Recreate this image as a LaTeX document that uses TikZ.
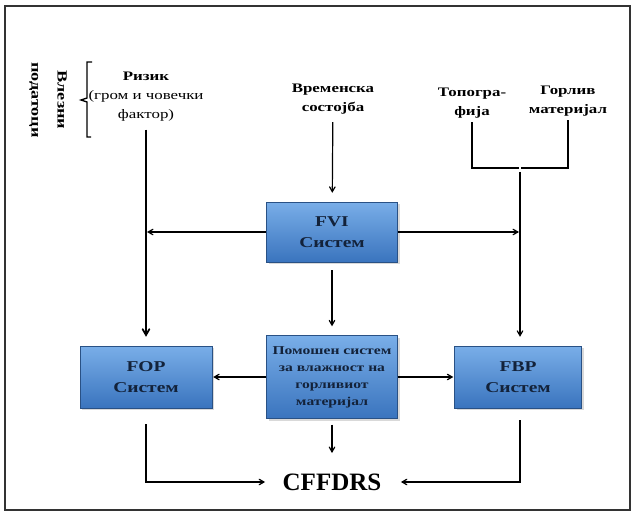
\documentclass[tikz,border=0pt]{standalone}
\usepackage{fontspec}
\setmainfont{Liberation Serif}
\newfontfamily\widefont[FakeStretch=1.3]{Liberation Serif}
\usetikzlibrary{shapes,arrows,shadows}
\definecolor{boxtop}{HTML}{79AEE8}
\definecolor{boxmid}{HTML}{4C8BD6}
\definecolor{boxbot}{HTML}{3A74BE}
\definecolor{boxtxt}{HTML}{13223A}
\tikzstyle{invis} = [draw=none]
\tikzstyle{src} = [draw=none, align=center, font=\widefont\bfseries\fontsize{13}{19}\selectfont]
\tikzstyle{sysbox} = [draw=boxbot!70!black, line width=0.4pt, top color=boxtop, middle color=boxmid, bottom color=boxbot, drop shadow={opacity=0.3, shadow xshift=2pt, shadow yshift=-2pt}, text=boxtxt, align=center, font=\widefont\bfseries\fontsize{15}{21}\selectfont, minimum width=131pt, minimum height=60pt, inner sep=2pt]
\tikzstyle{gap} = [shorten >=9pt, shorten <=4pt]

\begin{document}
\begin{tikzpicture}[->,>=angle 60,shorten >=1pt,x=1pt,y=-1pt,line width=1.2pt]

\useasboundingbox (0,0) rectangle (634,513);
\draw[-, line width=2pt, draw=black!80] (5,6) rectangle (630,510);

\node[src, rotate=-90, font=\widefont\bfseries\fontsize{14}{26}\selectfont] (input) at (48,100) {Влезни\\податоци};
\node[src] (risk) at (146,97) {Ризик\\\mdseries(гром и човечки\\\mdseries фактор)};
\node[src] (weather) at (333,99) {Временска\\состојба};
\node[src] (topo) at (472,103) {Топогра-\\фија};
\node[src] (fuel) at (568,101) {Горлив\\материјал};

\node[sysbox] (fvi) at (332,232) {FVI\\Систем};
\node[sysbox, minimum width=132pt, minimum height=62pt] (fop) at (146,377) {FOP\\Систем};
\node[sysbox, minimum height=83pt, font=\widefont\bfseries\fontsize{12}{17}\selectfont] (aux) at (332,377) {Помошен систем\\за влажност на\\горливиот\\материјал};
\node[sysbox, minimum width=127pt, minimum height=62pt] (fbp) at (518,377) {FBP\\Систем};
\node[invis, inner sep=0pt, font=\bfseries\fontsize{25}{28}\selectfont] (cffdrs) at (332,482) {CFFDRS};

\coordinate (brtop) at (92,62);
\coordinate (brbot) at (92,137);
\coordinate (join) at (520,168);
\coordinate (riskmid) at (146,232);
\coordinate (fbpmid) at (520,232);

% bracket beside the inputs
\draw[-, line width=1.3pt] (brtop) -- ++(-5,0) -- ++(0,36) -- ++(-6,2) -- ++(6,2) -- ++(0,35) -- (brbot);

\draw[-] (topo.south) |- (join);
\draw[-] (fuel.south) |- (join);

  \path
    (risk) edge [gap, line width=1.8pt] node {} (fop)
    (weather) edge [gap] node {} (fvi)
    (join) edge [gap] node {} (join |- fbp.north)
    (fvi) edge [] node {} (riskmid)
    (fvi) edge [] node {} (fbpmid)
    (fvi) edge [gap, shorten <=8pt] node {} (aux)
    (aux) edge [] node {} (fop)
    (aux) edge [] node {} (fbp)
    (aux) edge [shorten <=6pt, shorten >=20pt] node {} (cffdrs);

\draw[shorten <=16pt, shorten >=17pt] (fop.south) |- (cffdrs.west);
\draw[shorten <=12pt, shorten >=19pt] (fbp.south -| join) |- (cffdrs.east);

\end{tikzpicture}
\end{document}
